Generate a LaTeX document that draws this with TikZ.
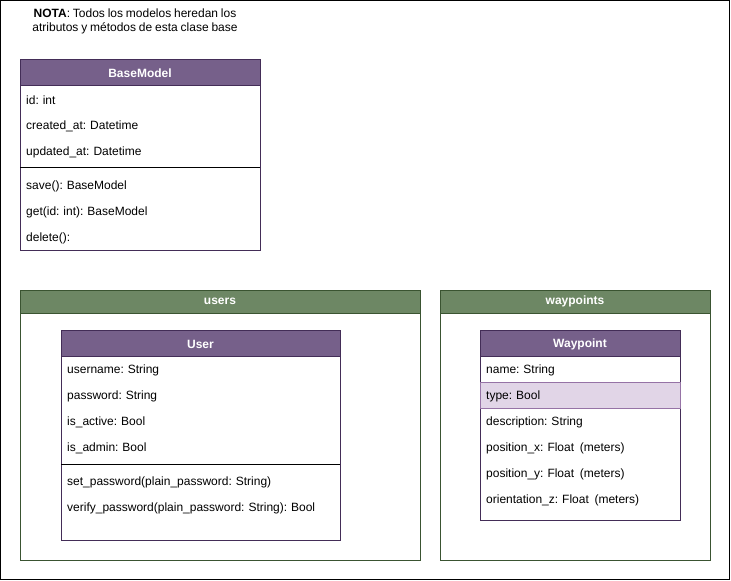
\documentclass[tikz,border=0pt]{standalone}
\usepackage{fontspec}
\setmainfont[WordSpace=0.85]{Liberation Sans}
\definecolor{hdrpurple}{HTML}{76608A}
\definecolor{strpurple}{HTML}{432D57}
\definecolor{hdrgreen}{HTML}{6D8764}
\definecolor{strgreen}{HTML}{3A5431}
\definecolor{hlfill}{HTML}{E1D5E7}
\definecolor{hlstroke}{HTML}{9673A6}
\tikzset{
  px/.style={x=1pt,y=-1pt},
  txt/.style={font=\fontsize{12}{14}\selectfont, inner sep=0pt, yshift=-1pt},
  rowtxt/.style={txt, anchor=west},
  hdrtxt/.style={txt, font=\fontsize{12}{14}\selectfont\bfseries, text=white},
  classbox/.style={draw=strpurple, fill=white, line width=0.8pt},
  classhdr/.style={draw=strpurple, fill=hdrpurple, line width=0.8pt},
  contbox/.style={draw=strgreen, fill=white, line width=0.8pt},
  conthdr/.style={draw=strgreen, fill=hdrgreen, line width=0.8pt},
  hlrow/.style={draw=hlstroke, fill=hlfill, line width=0.8pt},
  sepline/.style={draw=black, line width=0.8pt},
}
\begin{document}
\begin{tikzpicture}[px]
\useasboundingbox (0,0) rectangle (731,581);
% outer frame
\draw[black, line width=1pt] (0.5,0.5) rectangle (729.5,579.5);
% note
\node[txt, align=center] (note) at (135,20.5) {\textbf{NOTA}: Todos los modelos heredan los\\atributos y métodos de esta clase base};

% BaseModel
\draw[classbox] (20,59) rectangle (260,250);
\draw[classhdr] (20,59) rectangle (260,85);
\node[hdrtxt] (bmh) at (140,72) {BaseModel};
\node[rowtxt] (bm1) at (26,99) {id: int};
\node[rowtxt] (bm2) at (26,125) {created\_at: Datetime};
\node[rowtxt] (bm3) at (26,151) {updated\_at: Datetime};
\draw[sepline] (20,167.5) -- (260,167.5);
\node[rowtxt] (bm4) at (26,185) {save(): BaseModel};
\node[rowtxt] (bm5) at (26,211) {get(id: int): BaseModel};
\node[rowtxt] (bm6) at (26,237) {delete():};

% users container
\draw[contbox] (20,290) rectangle (420,560);
\draw[conthdr] (20,290) rectangle (420,313);
\node[hdrtxt] (usersh) at (220,300.5) {users};

% User class
\draw[classbox] (61,330) rectangle (340,540);
\draw[classhdr] (61,330) rectangle (340,356);
\node[hdrtxt] (userh) at (200.5,343) {User};
\node[rowtxt] (u1) at (67,369) {username: String};
\node[rowtxt] (u2) at (67,395) {password: String};
\node[rowtxt] (u3) at (67,421) {is\_active: Bool};
\node[rowtxt] (u4) at (67,447) {is\_admin: Bool};
\draw[sepline] (61,464.5) -- (340,464.5);
\node[rowtxt] (u5) at (67,481) {set\_password(plain\_password: String)};
\node[rowtxt] (u6) at (67,507) {verify\_password(plain\_password: String): Bool};

% waypoints container
\draw[contbox] (440,290) rectangle (710,560);
\draw[conthdr] (440,290) rectangle (710,313);
\node[hdrtxt] (wph) at (575,300.5) {waypoints};

% Waypoint class
\draw[classbox] (480,330) rectangle (680,520);
\draw[hlrow] (480,382.5) rectangle (680,408.5);
\draw[classhdr] (480,330) rectangle (680,356);
\node[hdrtxt] (wh) at (580,343) {Waypoint};
\node[rowtxt] (w1) at (486,369) {name: String};
\node[rowtxt] (w2) at (486,395.5) {type: Bool};
\node[rowtxt] (w3) at (486,421) {description: String};
\node[rowtxt] (w4) at (486,447) {position\_x: Float\ \ (meters)};
\node[rowtxt] (w5) at (486,473) {position\_y: Float\ \ (meters)};
\node[rowtxt] (w6) at (486,499) {orientation\_z: Float\ \ (meters)};
\end{tikzpicture}
\end{document}
